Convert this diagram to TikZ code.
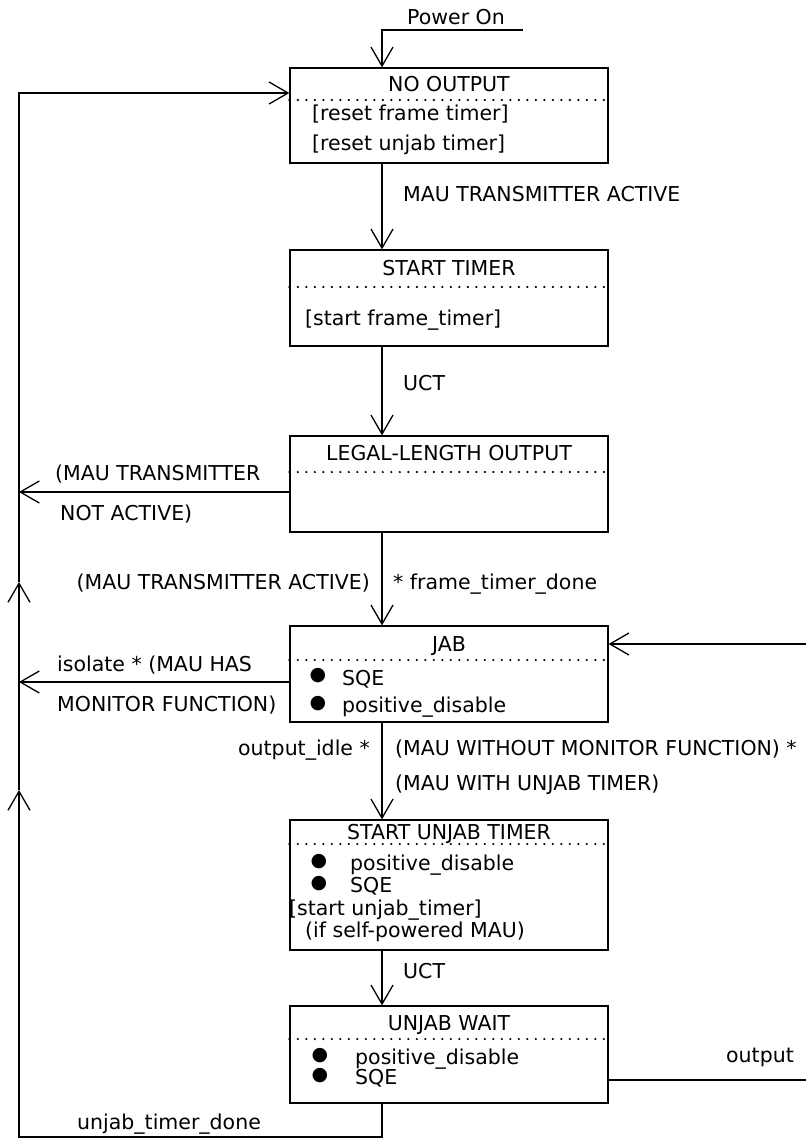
\documentclass[tikz,border=0pt]{standalone}
\usepackage{fontspec}
\setmainfont{DejaVu Sans}
\usetikzlibrary{arrows.meta}

\begin{document}
\begin{tikzpicture}[x=1pt,y=-1pt,
    state/.style={draw,line width=1.3pt,minimum width=318pt,inner sep=0pt},
    flow/.style={line width=1.3pt,-{Straight Barb[length=19pt,width=22pt,line width=1.3pt]}},
    wire/.style={line width=1.3pt},
    sep/.style={line width=2.3pt,line cap=round,dash pattern=on 0pt off 8.5pt},
    lbl/.style={inner sep=0pt,anchor=base west,font=\fontsize{20.5}{24}\selectfont},
    ttl/.style={inner sep=0pt,anchor=base,font=\fontsize{20.5}{24}\selectfont},
    dot/.style={inner sep=0pt,font=\fontsize{19}{24}\selectfont}]
  \useasboundingbox (0,0) rectangle (806,1140);

  % states
  \node[state,minimum height=95pt] (noout) at (449,115.5) {};
  \node[state,minimum height=96pt] (stimer) at (449,298) {};
  \node[state,minimum height=96pt] (legal) at (449,484) {};
  \node[state,minimum height=96pt] (jab) at (449,674) {};
  \node[state,minimum height=130pt] (sunjab) at (449,885) {};
  \node[state,minimum height=97pt] (uwait) at (449,1054.5) {};

  \draw[sep] (noout.west |- 0,100) -- (noout.east |- 0,100);
  \draw[sep] (stimer.west |- 0,287) -- (stimer.east |- 0,287);
  \draw[sep] (legal.west |- 0,472) -- (legal.east |- 0,472);
  \draw[sep] (jab.west |- 0,660) -- (jab.east |- 0,660);
  \draw[sep] (sunjab.west |- 0,844) -- (sunjab.east |- 0,844);
  \draw[sep] (uwait.west |- 0,1039) -- (uwait.east |- 0,1039);

  \node[ttl] (tnoout) at (449,91) {NO OUTPUT};
  \node[lbl] (a1) at (312,120) {[reset frame timer]};
  \node[lbl] (a2) at (312,150) {[reset unjab timer]};

  \node[ttl] (tstimer) at (449,275) {START TIMER};
  \node[lbl] (b1) at (305,325) {[start frame\_timer]};

  \node[ttl] (tlegal) at (449,460) {LEGAL-LENGTH OUTPUT};

  \node[ttl] (tjab) at (449,651) {JAB};
  \node[dot] (c1d) at (318,676) {●};
  \node[lbl] (c1) at (342,685) {SQE};
  \node[dot] (c2d) at (318,704) {●};
  \node[lbl] (c2) at (342,712) {positive\_disable};

  \node[ttl] (tsunjab) at (449,839) {START UNJAB TIMER};
  \node[dot] (d1d) at (319,862) {●};
  \node[lbl] (d1) at (350,870) {positive\_disable};
  \node[dot] (d2d) at (319,884) {●};
  \node[lbl] (d2) at (350,892) {SQE};
  \node[lbl] (d3) at (289,915) {[start unjab\_timer]};
  \node[lbl] (d4) at (305,937) {(if self-powered MAU)};

  \node[ttl] (tuwait) at (449,1030) {UNJAB WAIT};
  \node[dot] (e1d) at (320,1056) {●};
  \node[lbl] (e1) at (355,1064) {positive\_disable};
  \node[dot] (e2d) at (320,1076) {●};
  \node[lbl] (e2) at (355,1084) {SQE};

  % rails
  \coordinate (link) at (382,0);
  \coordinate (pwr) at (523,30);
  \coordinate (rtop) at (19,93);
  \coordinate (up2) at (19,582);
  \coordinate (up1) at (19,790);
  \coordinate (rbot) at (19,1137);
  \coordinate (jabin) at (806,644);
  \coordinate (out) at (806,1080);

  % transitions
  \draw[flow] (pwr) -- (link |- pwr) -- (noout.north -| link);
  \draw[flow] (noout.south -| link) -- (stimer.north -| link);
  \draw[flow] (stimer.south -| link) -- (legal.north -| link);
  \draw[flow] (legal.south -| link) -- (jab.north -| link);
  \draw[flow] (jab.south -| link) -- (sunjab.north -| link);
  \draw[flow] (sunjab.south -| link) -- (uwait.north -| link);
  \draw[flow] (uwait.south -| link) -- (link |- rbot) -- (rbot) -- (up1);
  \draw[flow] (up1) -- (up2);
  \draw[flow] (up2) -- (rtop) -- (noout.west |- rtop);
  \draw[flow] (legal.west |- 0,492) -- (rtop |- 0,492);
  \draw[flow] (jab.west |- 0,682) -- (rtop |- 0,682);
  \draw[flow] (jabin) -- (jab.east |- jabin);
  \draw[wire] (uwait.east |- out) -- (out);

  \node[lbl] (lpwr) at (407,25) {Power On};
  \node[lbl] (lmta) at (403,201) {MAU TRANSMITTER ACTIVE};
  \node[lbl] (luct1) at (403,390) {UCT};
  \node[lbl] (lnot1) at (55,480) {(MAU TRANSMITTER};
  \node[lbl] (lnot2) at (60,520) {NOT ACTIVE)};
  \node[lbl,anchor=base east] (lact) at (370,589) {(MAU TRANSMITTER ACTIVE)};
  \node[lbl] (lftd) at (393,589) {* frame\_timer\_done};
  \node[lbl] (liso1) at (57,671) {isolate * (MAU HAS};
  \node[lbl] (liso2) at (57,711) {MONITOR FUNCTION)};
  \node[lbl,anchor=base east] (lidle) at (370,755) {output\_idle *};
  \node[lbl] (lwo1) at (395,755) {(MAU WITHOUT MONITOR FUNCTION) *};
  \node[lbl] (lwo2) at (395,790) {(MAU WITH UNJAB TIMER)};
  \node[lbl] (luct2) at (403,978) {UCT};
  \node[lbl,anchor=base east] (lout) at (794,1062) {output};
  \node[lbl] (lutd) at (77,1129) {unjab\_timer\_done};
\end{tikzpicture}
\end{document}
